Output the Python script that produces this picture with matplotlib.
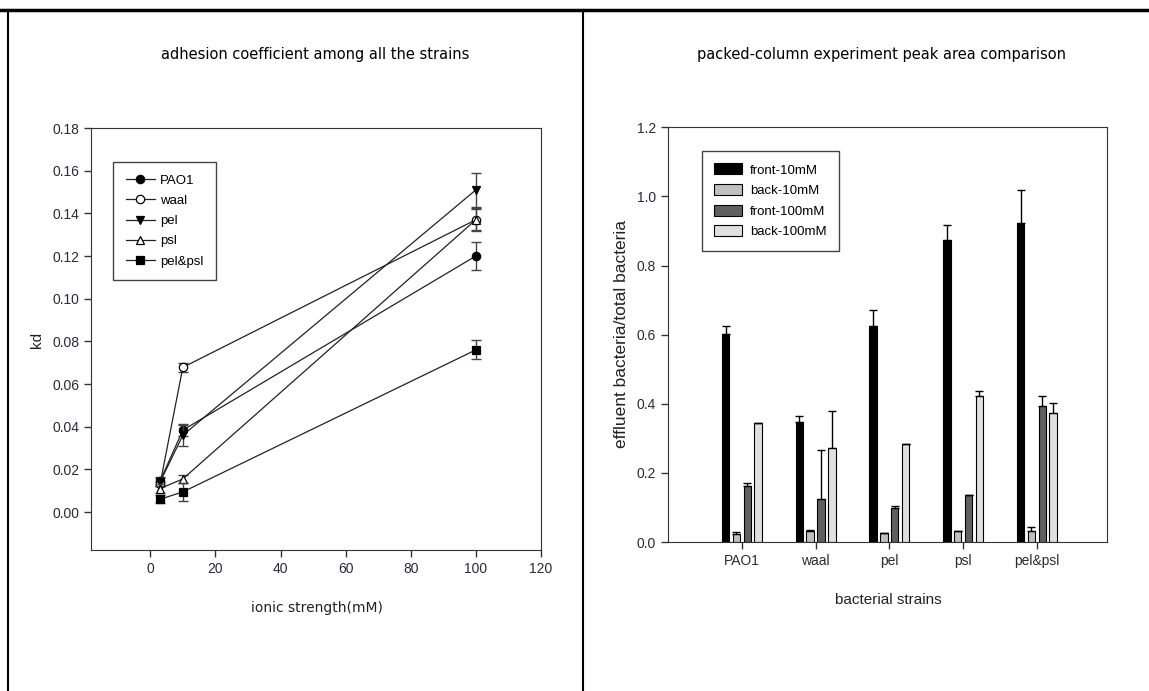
import matplotlib
matplotlib.use('Agg')
import matplotlib.pyplot as plt
from matplotlib.lines import Line2D
import numpy as np

plt.rcParams['font.family'] = ['Liberation Sans', 'DejaVu Sans']

# Left chart: adhesion coefficient (kd) vs ionic strength
ionic = [3, 10, 100]
kd_pao1 = [0.0144, 0.0384, 0.120]
kd_waal = [0.0130, 0.0678, 0.137]
kd_pel = [0.0140, 0.0360, 0.151]
kd_psl = [0.0110, 0.0155, 0.137]
kd_pelpsl = [0.0060, 0.0094, 0.076]
err_pao1 = [0.002, 0.003, 0.0065]
err_waal = [0.001, 0.002, 0.005]
err_pel = [0.002, 0.005, 0.008]
err_psl = [0.002, 0.002, 0.0055]
err_pelpsl = [0.002, 0.004, 0.0045]

# Right chart: packed-column peak areas
strains = ['PAO1', 'waal', 'pel', 'psl', 'pel&psl']
front_10 = [0.602, 0.348, 0.624, 0.874, 0.924]
back_10 = [0.023, 0.033, 0.025, 0.032, 0.033]
front_100 = [0.163, 0.123, 0.098, 0.136, 0.394]
back_100 = [0.343, 0.273, 0.283, 0.423, 0.373]
front_10_err = [0.022, 0.018, 0.046, 0.043, 0.096]
back_10_err = [0.006, 0.001, 0.001, 0.001, 0.010]
front_100_err = [0.007, 0.142, 0.006, 0.001, 0.029]
back_100_err = [0.001, 0.107, 0.001, 0.015, 0.028]

fig = plt.figure(figsize=(11.49, 6.91), dpi=100)
tick_color = '#2a2a3a'
spine_color = '#333333'

# frame lines around the panels
fig.add_artist(Line2D([0, 1], [1 - 10/691, 1 - 10/691], color='black', lw=2.5))
fig.add_artist(Line2D([8/1149, 8/1149], [0, 1 - 10/691], color='black', lw=1.5))
fig.add_artist(Line2D([583/1149, 583/1149], [0, 1 - 10/691], color='black', lw=1.5))

# ---- left panel ----
ax1 = fig.add_axes([91/1149, 1 - 550/691, 450/1149, 422/691])
series = [
    ('PAO1', kd_pao1, err_pao1, 'o', 'black'),
    ('waal', kd_waal, err_waal, 'o', 'white'),
    ('pel', kd_pel, err_pel, 'v', 'black'),
    ('psl', kd_psl, err_psl, '^', 'white'),
    ('pel&psl', kd_pelpsl, err_pelpsl, 's', 'black'),
]
for name, vals, errs, mk, fc in series:
    ax1.errorbar(ionic, vals, yerr=errs, fmt='none', ecolor='#444444',
                 elinewidth=1, capsize=3.5, capthick=1)
    ax1.plot(ionic, vals, color='#222222', lw=0.9, marker=mk, markersize=6,
             markerfacecolor=fc, markeredgecolor='black', markeredgewidth=0.9,
             label=name)
ax1.set_xlim(-18.2, 120)
ax1.set_ylim(-0.0178, 0.18)
ax1.set_xticks(range(0, 121, 20))
ax1.set_yticks(np.arange(0, 0.181, 0.02))
ax1.yaxis.set_major_formatter(plt.FormatStrFormatter('%.2f'))
ax1.tick_params(direction='out', length=5, width=1, colors=spine_color,
                labelcolor=tick_color, labelsize=10)
for s in ax1.spines.values():
    s.set_color(spine_color)
leg1 = ax1.legend(loc='upper left', bbox_to_anchor=(0.049, 0.919),
                  prop={'size': 9.5},
                  handlelength=2.2, labelspacing=0.6, borderpad=0.95,
                  handletextpad=0.4, fancybox=False, framealpha=1,
                  borderaxespad=0)
leg1.get_frame().set_edgecolor('#444444')
leg1.get_frame().set_linewidth(1)

fig.text(315/1149, 1 - 55/691, 'adhesion coefficient among all the strains',
         ha='center', va='center', fontsize=10.5, family='DejaVu Sans')
fig.text(317/1149, 1 - 608/691, 'ionic strength(mM)', ha='center', va='center',
         fontsize=10, family='DejaVu Sans', color='#222222')
fig.text(37/1149, 1 - 340/691, 'kd', ha='center', va='center', rotation=90,
         fontsize=11, color='#222222')

# ---- right panel ----
ax2 = fig.add_axes([668/1149, 1 - 542/691, 439/1149, 414.7/691])
x = np.arange(1, len(strains) + 1)
width = 0.1
step = 0.147
groups = [
    ('front-10mM', front_10, front_10_err, 'black'),
    ('back-10mM', back_10, back_10_err, '#c0c0c0'),
    ('front-100mM', front_100, front_100_err, '#606060'),
    ('back-100mM', back_100, back_100_err, '#e0e0e0'),
]
for i, (name, vals, errs, col) in enumerate(groups):
    pos = x + (i - 1.5) * step
    ax2.bar(pos, vals, width=width, color=col, edgecolor='black', linewidth=0.8,
            label=name, zorder=2)
    ax2.errorbar(pos, vals, yerr=[np.zeros(len(errs)), errs], fmt='none',
                 ecolor='black', elinewidth=1, capsize=2.8, capthick=1, zorder=3)
ax2.set_xlim(0, 5.95)
ax2.set_ylim(0, 1.2)
ax2.set_xticks(x)
ax2.set_xticklabels(strains)
ax2.set_yticks(np.arange(0, 1.21, 0.2))
ax2.yaxis.set_major_formatter(plt.FormatStrFormatter('%.1f'))
ax2.tick_params(direction='out', length=5, width=1, colors=spine_color,
                labelcolor=tick_color, labelsize=10)
for s in ax2.spines.values():
    s.set_color(spine_color)
leg2 = ax2.legend(loc='upper left', bbox_to_anchor=(0.077, 0.943),
                  prop={'size': 9.5},
                  handlelength=2.1, handleheight=0.9, labelspacing=0.57,
                  borderpad=0.95, handletextpad=0.6, fancybox=False,
                  framealpha=1, borderaxespad=0)
leg2.get_frame().set_edgecolor('#444444')
leg2.get_frame().set_linewidth(1)

fig.text(882/1149, 1 - 55/691, 'packed-column experiment peak area comparison',
         ha='center', va='center', fontsize=10.5, family='DejaVu Sans')
fig.text(888/1149, 1 - 600/691, 'bacterial strains', ha='center', va='center',
         fontsize=11, color='#222222')
fig.text(622/1149, 1 - 334/691, 'effluent bacteria/total bacteria', ha='center',
         va='center', rotation=90, fontsize=12.5, color='#222222')

fig.savefig('out.png', dpi=100)
